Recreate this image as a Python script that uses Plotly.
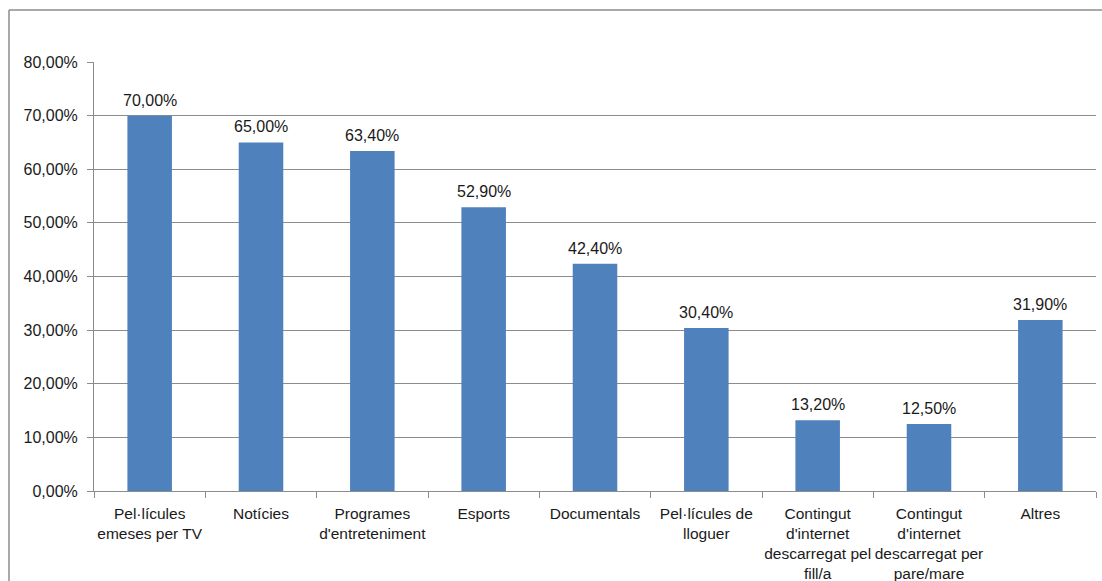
import plotly.graph_objects as go

categories = [
    "Pel·lícules<br>emeses per TV",
    "Notícies",
    "Programes<br>d'entreteniment",
    "Esports",
    "Documentals",
    "Pel·lícules de<br>lloguer",
    "Contingut<br>d'internet<br>descarregat pel<br>fill/a",
    "Contingut<br>d'internet<br>descarregat per<br>pare/mare",
    "Altres",
]
values = [70.0, 65.0, 63.4, 52.9, 42.4, 30.4, 13.2, 12.5, 31.9]
y_ticks = [0, 10, 20, 30, 40, 50, 60, 70, 80]


def fmt(v):
    return f"{v:.2f}".replace(".", ",") + "%"


FONT = "Liberation Sans, Arial, sans-serif"
GRAY = "#8c8c8c"
TXT = "#1a1a1a"

fig = go.Figure(
    go.Bar(
        x=categories,
        y=values,
        marker=dict(color="#4F81BD", line=dict(width=0)),
        cliponaxis=False,
    )
)

for c, v in zip(categories, values):
    fig.add_annotation(
        x=c, y=v, xref="x", yref="y",
        text=fmt(v), showarrow=False,
        yanchor="bottom", yshift=5,
        font=dict(family=FONT, size=16, color=TXT),
    )

L, R, T, B = 94, 6, 62, 90
W, H = 1102, 581
pw = W - L - R
ph = H - T - B

fig.update_layout(
    width=W,
    height=H,
    margin=dict(l=L, r=R, t=T, b=B, autoexpand=False),
    paper_bgcolor="white",
    plot_bgcolor="white",
    bargap=0.6,
    showlegend=False,
    font=dict(family=FONT, size=16, color=TXT),
    xaxis=dict(
        showline=True,
        linecolor=GRAY,
        linewidth=1,
        ticks="outside",
        tickson="boundaries",
        ticklen=6,
        tickcolor=GRAY,
        tickangle=0,
        tickfont=dict(family=FONT, size=15.5, color=TXT),
        ticklabelstandoff=8,
        showgrid=False,
        fixedrange=True,
    ),
    yaxis=dict(
        range=[0, 80],
        tickvals=y_ticks,
        ticktext=[fmt(v) for v in y_ticks],
        showline=True,
        linecolor=GRAY,
        linewidth=1,
        ticks="outside",
        ticklen=6,
        tickcolor=GRAY,
        showgrid=True,
        gridcolor=GRAY,
        gridwidth=1,
        zeroline=False,
        tickfont=dict(family=FONT, size=16, color=TXT),
        ticklabelstandoff=6,
    ),
    shapes=[
        dict(type="line", xref="paper", yref="paper",
             x0=(9 - L) / pw, x1=(W - L + 20) / pw,
             y0=(H - B - 10) / ph, y1=(H - B - 10) / ph,
             line=dict(color=GRAY, width=1.5)),
        dict(type="line", xref="paper", yref="paper",
             x0=(9 - L) / pw, x1=(9 - L) / pw,
             y0=(H - B - 10) / ph, y1=-(B + 20) / ph,
             line=dict(color=GRAY, width=1.5)),
    ],
)

fig.write_html("out.html")
